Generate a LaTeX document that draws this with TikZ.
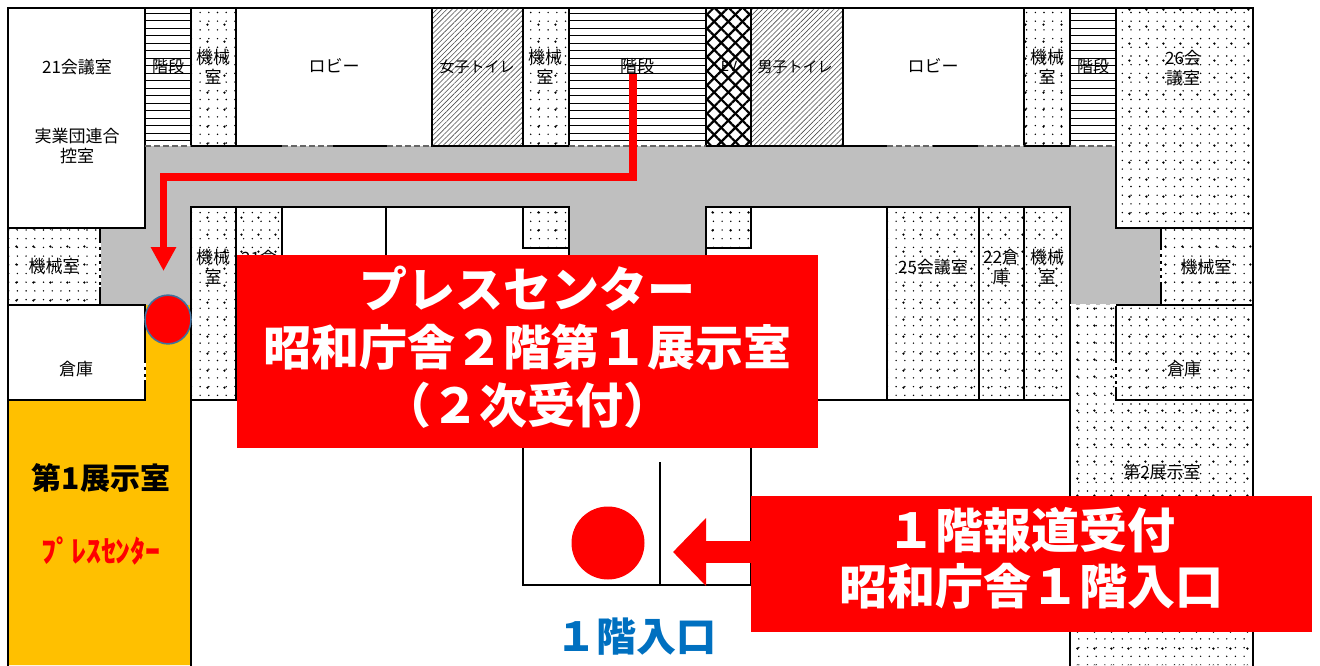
\documentclass[tikz,border=0pt]{standalone}
\usepackage{fontspec}
\setmainfont{Noto Sans CJK JP}
\usepackage{xcolor}
\usetikzlibrary{arrows.meta,patterns.meta}
\definecolor{corridorgray}{HTML}{BFBFBF}
\definecolor{hallorange}{HTML}{FFC000}
\definecolor{pressred}{HTML}{FF0000}
\definecolor{entryblue}{HTML}{0070C0}
\definecolor{ringblue}{HTML}{41719C}
% horizontal treads of a stair room
\newcommand{\stairtreads}[2]{
  \foreach \ty in {13,20.5,...,142}
    \draw[line width=0.9pt] (#1,\ty) -- (#2,\ty);
}

\begin{document}
\begin{tikzpicture}[x=1pt,y=-1pt,
    wall/.style={line width=2pt,line cap=rect},
    dotroom/.style={preaction={pattern={Dots[distance=17.4pt,radius=1.3pt]}},
                    pattern={Dots[distance=8.7pt,radius=0.8pt]}},
    toiletroom/.style={pattern={Lines[angle=45,distance=3.6pt,line width=0.6pt]},pattern color=black!70},
    evroom/.style={preaction={pattern={Lines[angle=45,distance=10pt,line width=2.2pt]}},
                   pattern={Lines[angle=-45,distance=10pt,line width=2.2pt]}},
    doorgap/.style={white,line width=2.6pt,dashed,dash pattern=on 4pt off 3pt},
    opendoor/.style={line width=1.4pt,dash pattern=on 6pt off 3pt,black!60},
    route/.style={pressred,line width=7.5pt},
    roomlabel/.style={inner sep=0pt,align=center,font=\fontsize{17}{19.5}\selectfont},
    callout/.style={fill=pressred,text=white,inner sep=0pt,align=center,
                    font=\bfseries\fontsize{48}{58}\selectfont}]

  \useasboundingbox (0,0) rectangle (1320,665);

  % floor areas
  \fill[corridorgray] (145,146) rectangle (1116,207);
  \fill[corridorgray] (145,207) rectangle (191,305);
  \fill[corridorgray] (100,228) rectangle (145,305);
  \fill[corridorgray] (1070,207) rectangle (1116,305);
  \fill[corridorgray] (1116,228) rectangle (1161,305);
  \fill[corridorgray] (569,207) rectangle (706,260);
  \fill[hallorange] (8,400) -- (145,400) -- (145,305) -- (191,305) -- (191,665) -- (8,665) -- cycle;

  % patterned rooms
  \path[dotroom] (191,8) rectangle (236,146);
  \path[dotroom] (523,8) rectangle (569,146);
  \path[dotroom] (1024,8) rectangle (1070,146);
  \path[dotroom] (1116,8) rectangle (1253,228);
  \path[dotroom] (8,228) rectangle (100,305);
  \path[dotroom] (191,207) rectangle (282,400);
  \path[dotroom] (523,207) rectangle (569,248);
  \path[dotroom] (706,207) rectangle (751,248);
  \path[dotroom] (887,207) rectangle (1070,400);
  \path[dotroom] (1161,228) rectangle (1253,305);
  \path[dotroom] (1116,305) rectangle (1253,400);
  \path[dotroom] (1070,305) -- (1116,305) -- (1116,400) -- (1253,400) -- (1253,665) -- (1070,665) -- cycle;
  \path[toiletroom] (432,8) rectangle (523,146);
  \path[toiletroom] (751,8) rectangle (843,146);
  \path[evroom] (706,8) rectangle (751,146);
  \stairtreads{145}{191}
  \stairtreads{569}{706}
  \stairtreads{1070}{1116}

  % walls
  \draw[wall] (8,665) -- (8,8) -- (1253,8) -- (1253,665);
  \draw[wall] (145,146) -- (145,8);
  \draw[wall] (8,228) -- (145,228) -- (145,146);
  \foreach \wx in {191,236,432,523,569,706,751,843,1024,1070}
    \draw[wall] (\wx,8) -- (\wx,146);
  \draw[wall] (191,146) -- (282,146);
  \draw[wall] (333,146) -- (387,146);
  \draw[wall] (432,146) -- (569,146);
  \draw[wall] (706,146) -- (887,146);
  \draw[wall] (933,146) -- (978,146);
  \draw[wall] (1024,146) -- (1070,146);
  \draw[opendoor] (282,146) -- (333,146);
  \draw[opendoor] (387,146) -- (432,146);
  \draw[opendoor] (887,146) -- (933,146);
  \draw[opendoor] (978,146) -- (1024,146);
  \draw[opendoor] (145,146) -- (191,146);
  \draw[opendoor] (569,146) -- (706,146);
  \draw[opendoor] (1070,146) -- (1116,146);
  \draw[wall] (1116,8) -- (1116,228) -- (1253,228);
  \draw[wall] (100,228) -- (100,305);
  \draw[wall] (8,305) -- (145,305) -- (145,400) -- (8,400);
  \draw[wall] (191,207) rectangle (236,400);
  \draw[wall] (191,207) -- (523,207) -- (523,248) -- (569,248);
  \draw[wall] (282,207) -- (282,260);
  \draw[wall] (386,207) -- (386,260);
  \draw[wall] (569,207) -- (523,207);
  \draw[wall] (569,207) -- (569,260);
  \draw[wall] (706,260) -- (706,207) -- (1070,207);
  \draw[wall] (706,248) -- (751,248) -- (751,207);
  \draw[wall] (191,305) -- (191,665);
  \draw[wall] (191,400) -- (240,400);
  \draw[wall] (810,400) -- (1070,400);
  \foreach \wx in {887,979,1024}
    \draw[wall] (\wx,207) -- (\wx,400);
  \draw[wall] (1070,207) -- (1070,665);
  \draw[wall] (1161,228) -- (1161,305);
  \draw[wall] (1070,305) -- (1070,400);
  \draw[wall] (1116,305) -- (1253,305);
  \draw[wall] (1116,305) -- (1116,400) -- (1253,400);
  \draw[wall] (523,440) -- (523,585) -- (751,585) -- (751,440);
  \draw[line width=2pt] (660,462) -- (660,585);
  \draw[doorgap] (100,243) -- (100,287);
  \draw[doorgap] (145,363) -- (145,380);
  \draw[doorgap] (1161,250) -- (1161,283);
  \draw[doorgap] (1116,363) -- (1116,387);
  \draw[white,line width=1.6pt,dash pattern=on 6pt off 4pt] (1070,305) -- (1116,305);

  % room names
  \node[roomlabel] (room21) at (77,67) {21会議室};
  \node[roomlabel] (jitsugyo) at (77,146) {実業団連合\\控室};
  \node[roomlabel,font=\fontsize{16}{19}\selectfont] (stairsA) at (168,66) {階段};
  \node[roomlabel] (machineA) at (213,67) {機械\\室};
  \node[roomlabel] (lobbyA) at (334,66) {ロビー};
  \node[roomlabel,font=\fontsize{15}{19}\selectfont] (ladies) at (477,67) {女子トイレ};
  \node[roomlabel] (machineB) at (545,67) {機械\\室};
  \node[roomlabel] (stairsB) at (637,66) {階段};
  \node[roomlabel,font=\fontsize{14}{19}\selectfont] (elevator) at (729,66) {EV};
  \node[roomlabel,font=\fontsize{15}{19}\selectfont] (gents) at (795,67) {男子トイレ};
  \node[roomlabel] (lobbyB) at (933,66) {ロビー};
  \node[roomlabel] (machineC) at (1047,67) {機械\\室};
  \node[roomlabel,font=\fontsize{16}{19}\selectfont] (stairsC) at (1093,66) {階段};
  \node[roomlabel] (room26) at (1183,68) {26会\\議室};
  \node[roomlabel] (machineD) at (54,266) {機械室};
  \node[roomlabel] (storeA) at (76,369) {倉庫};
  \node[roomlabel] (machineE) at (213,267) {機械\\室};
  \node[roomlabel] (store21) at (259,258) {21倉};
  \node[roomlabel] (room25) at (933,267) {25会議室};
  \node[roomlabel] (store22) at (1001,267) {22倉\\庫};
  \node[roomlabel] (machineF) at (1047,267) {機械\\室};
  \node[roomlabel] (machineG) at (1206,267) {機械室};
  \node[roomlabel] (storeB) at (1184,369) {倉庫};
  \node[roomlabel] (hall2) at (1162,472) {第2展示室};
  \node[inner sep=0pt,font=\bfseries\fontsize{30}{34}\selectfont] (hall1) at (101,478) {第1展示室};
  \node[inner sep=0pt,text=pressred,font=\bfseries\fontsize{30}{34}\selectfont] (hall1press) at (101,551) {ﾌﾟﾚｽｾﾝﾀｰ};

  % reception marks
  \node[circle,fill=pressred,draw=ringblue,line width=1.6pt,minimum width=46pt,inner sep=0pt,
        yscale=1.06] (pressdot) at (168,319.5) {};
  \node[circle,fill=pressred,minimum width=73pt,inner sep=0pt] (entrydot) at (608,543) {};

  % callouts
  \node[callout,minimum width=581pt,minimum height=193pt] (pressbox) at (527.5,351.5)
    {プレスセンター\\昭和庁舎２階第１展示室\\（２次受付）\rule[-14pt]{0pt}{14pt}};
  \node[callout,minimum width=561pt,minimum height=136pt,
        font=\bfseries\fontsize{48}{56}\selectfont] (mediabox) at (1031.5,564)
    {１階報道受付\\昭和庁舎１階入口\rule[-17pt]{0pt}{17pt}};
  \node[inner sep=0pt,text=entryblue,font=\bfseries\fontsize{40}{46}\selectfont] (entrylabel) at (636,637)
    {１階入口};

  % route from the stairs to the press centre
  \coordinate (routestart) at (633,74);
  \coordinate (routebendA) at (633,177);
  \coordinate (routebendB) at (163.5,177);
  \coordinate (routeend) at (163.5,271);
  \draw[route,-{Triangle[width=24pt,length=24pt]}] (routestart) -- (routebendA) -- (routebendB) -- (routeend);

  % arrow from the first floor desk
  \coordinate (desktip) at (673,552);
  \draw[pressred,line width=22pt,-{Triangle[width=66pt,length=33pt]}] (mediabox.west |- desktip) -- (desktip);

\end{tikzpicture}
\end{document}
